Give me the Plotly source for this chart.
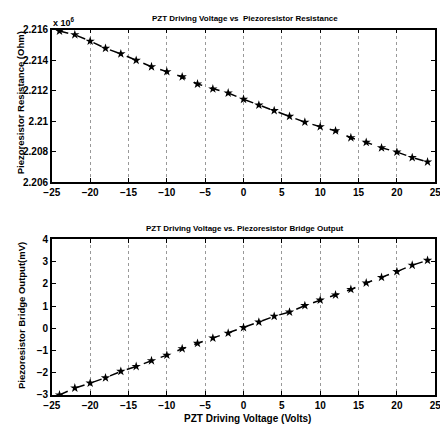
import plotly.graph_objects as go

voltage = [-24, -22, -20, -18, -16, -14, -12, -10, -8, -6, -4, -2, 0,
           2, 4, 6, 8, 10, 12, 14, 16, 18, 20, 22, 24]
resistance_ohm = [2215900, 2215660, 2215240, 2214770, 2214410, 2213980, 2213560,
                  2213240, 2212900, 2212430, 2212110, 2211840, 2211430, 2211050,
                  2210690, 2210310, 2209930, 2209630, 2209360, 2208910, 2208610,
                  2208250, 2207970, 2207610, 2207320]
bridge_mv = [-3.0, -2.69, -2.47, -2.23, -1.94, -1.72, -1.46, -1.21, -0.92, -0.68,
             -0.44, -0.22, 0.03, 0.28, 0.54, 0.73, 1.02, 1.27, 1.50, 1.75, 2.04,
             2.29, 2.55, 2.84, 3.06]

x_ticks = [-25, -20, -15, -10, -5, 0, 5, 10, 15, 20, 25]
r_ticks = [2206000, 2208000, 2210000, 2212000, 2214000, 2216000]
r_tick_labels = ["2.206", "2.208", "2.21", "2.212", "2.214", "2.216"]
b_ticks = [-3, -2, -1, 0, 1, 2, 3, 4]

title_top = "PZT Driving Voltage vs  Piezoresistor Resistance"
title_bot = "PZT Driving Voltage vs. Piezoresistor Bridge Output"
xlabel = "PZT Driving Voltage (Volts)"
ylabel_top = "Piezoresistor Resistance (Ohm)"
ylabel_bot = "Piezoresistor Bridge Output(mV)"

# the page body has an 8px margin, so the figure is 8px smaller and drawn offset
W, H = 440, 424

def px(x):
    return (x - 8) / W

def py(y):
    return 1 - (y - 8) / H

FONT = "Liberation Sans"
fig = go.Figure()
line = dict(color="black", width=1.5, dash="dash")
marker = dict(symbol="star", size=7, color="black")
fig.add_trace(go.Scatter(x=voltage, y=resistance_ohm, mode="lines+markers",
                         line=line, marker=marker, xaxis="x", yaxis="y"))
fig.add_trace(go.Scatter(x=voltage, y=bridge_mv, mode="lines+markers",
                         line=line, marker=marker, xaxis="x2", yaxis="y2"))

axcommon = dict(showline=True, linecolor="black", linewidth=1.5, mirror="ticks",
                ticks="inside", ticklen=4, tickcolor="black",
                tickfont=dict(family=FONT, size=10, color="black", weight="bold"),
                zeroline=False)
xgrid = dict(showgrid=True, gridcolor="#999", griddash="dot", gridwidth=1)

fig.update_layout(
    width=W, height=H, margin=dict(l=0, r=0, t=0, b=0),
    paper_bgcolor="white", plot_bgcolor="white", showlegend=False,
    xaxis=dict(domain=[px(45), px(441)], range=[-25, 25], tickvals=x_ticks,
               anchor="y", **xgrid, **axcommon),
    yaxis=dict(domain=[py(181), py(24)], range=[2206000, 2216000], tickvals=r_ticks,
               ticktext=r_tick_labels, anchor="x", showgrid=False, **axcommon),
    xaxis2=dict(domain=[px(45), px(441)], range=[-25, 25], tickvals=x_ticks,
                anchor="y2", **xgrid, **axcommon),
    yaxis2=dict(domain=[py(400), py(240)], range=[-3, 4], tickvals=b_ticks,
                anchor="x2", showgrid=False, **axcommon),
)

def ann(text, x, y, size, angle=0, xanchor="center", yanchor="middle"):
    fig.add_annotation(text="<b>" + text + "</b>", x=x, y=y, xref="paper", yref="paper",
                       showarrow=False, textangle=angle, xanchor=xanchor, yanchor=yanchor,
                       font=dict(family=FONT, size=size, color="black"))

ann(title_top, px(245), py(13), 8)
ann(title_bot, px(245), py(229), 8)
ann(xlabel, px(247), py(424), 10)
ann(ylabel_top, px(13), py(99), 9.5, angle=-90)
ann(ylabel_bot, px(13), py(318), 9.5, angle=-90)
ann("x 10<sup>6</sup>", px(44), py(16), 9, xanchor="left")

fig.write_html("out.html", config={"displayModeBar": False})
